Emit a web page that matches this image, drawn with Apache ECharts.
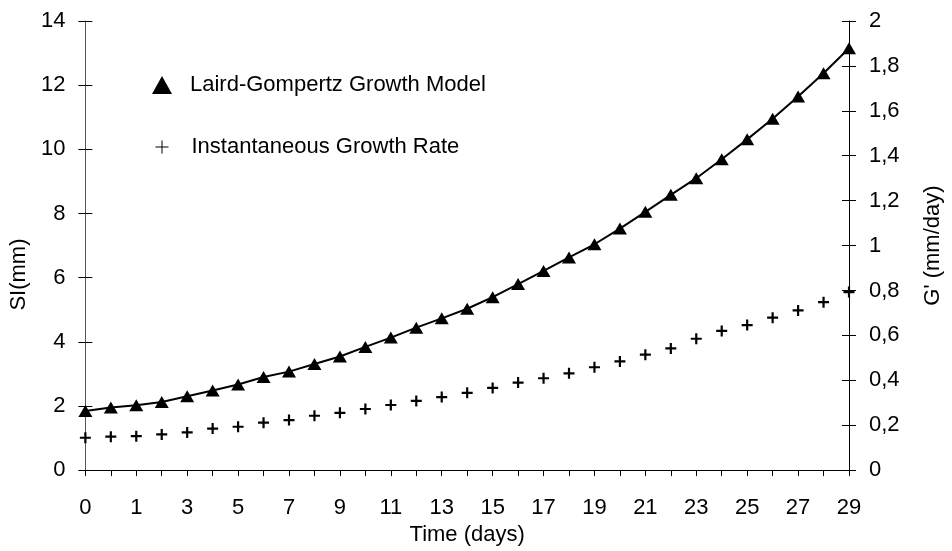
<!DOCTYPE html>
<html>
<head>
<meta charset="utf-8">
<script src="https://cdn.jsdelivr.net/npm/echarts@6/dist/echarts.min.js"></script>
<style>
  html, body { margin: 0; padding: 0; background: #fff; }
  #chart { width: 952px; height: 551px; }
</style>
</head>
<body>
<div id="chart"></div>
<script>
// x categories (Excel category axis: 2nd slot has no label of its own)
const days = ["0", "0.5", "1", "2", "3", "4", "5", "6", "7", "8", "9", "10", "11", "12", "13", "14",
  "15", "16", "17", "18", "19", "20", "21", "22", "23", "24", "25", "26", "27", "28", "29"];

// SI (mm), left axis
const gompertzSI = [1.84, 1.95, 2.02, 2.12, 2.30, 2.48, 2.67, 2.90, 3.07, 3.31, 3.54, 3.84, 4.13, 4.44,
  4.73, 5.03, 5.39, 5.80, 6.21, 6.63, 7.04, 7.53, 8.05, 8.58, 9.10, 9.69, 10.31, 10.95, 11.65, 12.37, 13.15];

// G' (mm/day), right axis
const growthRate = [0.144, 0.149, 0.151, 0.159, 0.168, 0.185, 0.193, 0.211, 0.223, 0.242, 0.255, 0.272,
  0.290, 0.308, 0.325, 0.344, 0.366, 0.390, 0.409, 0.431, 0.458, 0.484, 0.514, 0.542, 0.585, 0.620,
  0.646, 0.679, 0.711, 0.748, 0.793];

const siAxis = { min: 0, max: 14, interval: 2 };
const rateAxis = { min: 0, max: 2, interval: 0.2 };

const FONT = "Liberation Sans";
const crossPath = "path://M4,0H6V4H10V6H6V10H4V6H0V4H4Z";
const crossThin = "path://M6,0H7V6H13V7H7V13H6V7H0V6H6Z";

const chart = echarts.init(document.getElementById("chart"));

// extra tick-only axis so y ticks cross the axis line like in Excel
function innerTicks(pos, range) {
  return {
    type: "value",
    position: pos,
    min: range.min, max: range.max, interval: range.interval,
    axisLine: { show: false },
    axisTick: { show: true, inside: true, length: 7, lineStyle: { color: "#000" } },
    axisLabel: { show: false },
    splitLine: { show: false },
  };
}

chart.setOption({
  animation: false,
  textStyle: { fontFamily: FONT },
  grid: { left: 83, right: 99, top: 21, bottom: 77 },
  legend: [
    {
      data: [{ name: "Laird-Gompertz Growth Model", icon: "triangle" }],
      left: 152, top: 74, padding: 0,
      itemWidth: 20, itemHeight: 18,
      textStyle: { fontFamily: FONT, fontSize: 22, color: "#000", padding: [0, 0, 0, 13] },
    },
    {
      data: [{ name: "Instantaneous Growth Rate", icon: crossThin }],
      left: 155.5, top: 136, padding: 0,
      itemWidth: 13, itemHeight: 13,
      itemStyle: { opacity: 1 },
      textStyle: { fontFamily: FONT, fontSize: 22, color: "#000", padding: [0, 0, 0, 18] },
    },
  ],
  xAxis: {
    type: "category",
    data: days,
    boundaryGap: false,
    name: "Time (days)",
    nameLocation: "middle",
    nameGap: 53,
    nameTextStyle: { fontFamily: FONT, fontSize: 22, color: "#000" },
    axisLine: { lineStyle: { color: "#000", width: 1 } },
    axisTick: { show: true, interval: 0, length: 6, lineStyle: { color: "#000" } },
    axisLabel: { interval: 1, margin: 27, fontFamily: FONT, fontSize: 22, color: "#000" },
    splitLine: { show: false },
  },
  yAxis: [
    {
      type: "value",
      position: "left",
      min: siAxis.min, max: siAxis.max, interval: siAxis.interval,
      name: "SI(mm)",
      nameLocation: "middle",
      nameGap: 49,
      nameTextStyle: { fontFamily: FONT, fontSize: 22, color: "#000", padding: [0, 58, 0, 0] },
      axisLine: { show: true, lineStyle: { color: "#555" } },
      axisTick: { show: true, length: 7, lineStyle: { color: "#000" } },
      axisLabel: { margin: 20, fontFamily: FONT, fontSize: 22, color: "#000" },
      splitLine: { show: false },
    },
    {
      type: "value",
      position: "right",
      min: rateAxis.min, max: rateAxis.max, interval: rateAxis.interval,
      name: "G' (mm/day)",
      nameLocation: "middle",
      nameGap: 73,
      nameTextStyle: { fontFamily: FONT, fontSize: 22, color: "#000" },
      axisLine: { show: true, lineStyle: { color: "#000" } },
      axisTick: { show: true, length: 7, lineStyle: { color: "#000" } },
      axisLabel: {
        margin: 20, fontFamily: FONT, fontSize: 22, color: "#000",
        formatter: (v) => String(+v.toFixed(1)).replace(".", ","),
      },
      splitLine: { show: false },
    },
    innerTicks("left", siAxis),
    innerTicks("right", rateAxis),
  ],
  series: [
    {
      name: "Laird-Gompertz Growth Model",
      type: "line",
      yAxisIndex: 0,
      data: gompertzSI,
      symbol: "triangle",
      symbolSize: [14, 12],
      showAllSymbol: true,
      itemStyle: { color: "#000" },
      lineStyle: { color: "#000", width: 2 },
    },
    {
      name: "Instantaneous Growth Rate",
      type: "scatter",
      yAxisIndex: 1,
      data: growthRate,
      symbol: crossPath,
      symbolSize: 11,
      itemStyle: { color: "#000", opacity: 1 },
    },
  ],
});
</script>
</body>
</html>
